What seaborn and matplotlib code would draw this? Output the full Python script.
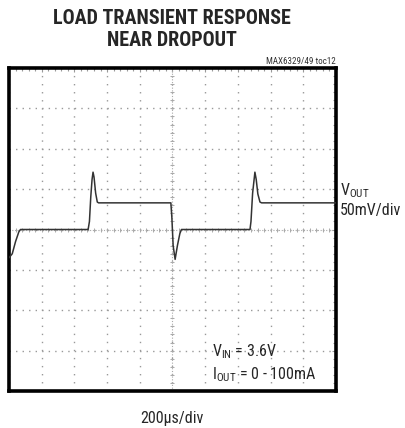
import numpy as np
import pandas as pd
import matplotlib
matplotlib.use('Agg')
import matplotlib.pyplot as plt
import seaborn as sns

# trace: time in us, VOUT deviation in mV
time_us = [0, 20, 40, 60, 70, 484, 492, 500, 508, 514, 520, 530, 540, 548, 560,
           990, 996, 1004, 1016, 1030, 1045, 1055,
           1474, 1480, 1490, 1504, 1512, 1522, 1535, 1545, 2000]
vout_mv = [-35, -30, -15, -3, 0, 0, 10, 40, 62, 71, 65, 45, 34, 33, 33,
           33, 15, -20, -37, -20, -5, 0,
           0, 10, 45, 71, 62, 44, 34, 33, 33]

t_div = 200   # us per division
v_div = 50    # mV per division
x_major = np.arange(0, 2001, t_div)
y_major = np.arange(-200, 201, v_div)

df = pd.DataFrame({'t': time_us, 'v': vout_mv})

sns.set_style('white')
plt.rcParams['font.family'] = ['Roboto Condensed', 'DejaVu Sans']
plt.rcParams['mathtext.fontset'] = 'custom'
plt.rcParams['mathtext.rm'] = 'Roboto Condensed'
plt.rcParams['mathtext.it'] = 'Roboto Condensed'

fig = plt.figure(figsize=(4.06, 4.28), dpi=100)
ax = fig.add_axes([9 / 406, 37 / 428, 327 / 406, 323 / 428])

sns.lineplot(data=df, x='t', y='v', ax=ax, color='#333333', lw=1.1, zorder=4)

ax.set_xlim(0, 2000)
ax.set_ylim(-200, 200)
ax.set_xticks(x_major)
ax.set_yticks(y_major)
ax.set_xticks(np.arange(0, 2001, t_div / 5), minor=True)
ax.set_yticks(np.arange(-200, 201, v_div / 5), minor=True)
ax.tick_params(which='both', direction='in', top=True, right=True,
               labelbottom=False, labelleft=False, color='#999999')
ax.tick_params(which='major', length=3, width=0.8)
ax.tick_params(which='minor', length=2, width=0.8)
ax.set_xlabel('')
ax.set_ylabel('')

ax.xaxis.grid(True, color='#999999', lw=1.0, linestyle=(0, (1, 4.8)))
ax.yaxis.grid(True, color='#999999', lw=1.0, linestyle=(0, (1, 3.7)))

# centre crosshair with small division marks
ax.axvline(1000, color='#aaaaaa', lw=0.8, linestyle=(0, (1, 1.5)), zorder=2)
ax.axhline(0, color='#aaaaaa', lw=0.8, linestyle=(0, (1, 1.5)), zorder=2)
ym = np.arange(-200, 201, v_div / 5)
ax.plot(np.full_like(ym, 1000.0), ym, ls='none', marker='_', ms=3.5,
        mew=0.7, color='#aaaaaa', zorder=2)
xm = np.arange(0, 2001, t_div / 5)
ax.plot(xm, np.zeros_like(xm, dtype=float), ls='none', marker='|', ms=3.5,
        mew=0.7, color='#aaaaaa', zorder=2)

for s in ax.spines.values():
    s.set_visible(True)
    s.set_linewidth(2.6)
    s.set_color('black')

fig.text(172 / 406, 1 - 18 / 428, 'LOAD TRANSIENT RESPONSE', ha='center',
         va='center', fontsize=14.5, fontweight='heavy')
fig.text(172 / 406, 1 - 40 / 428, 'NEAR DROPOUT', ha='center',
         va='center', fontsize=14.5, fontweight='heavy')
fig.text(336 / 406, 1 - 61 / 428, 'MAX6329/49 toc12', ha='right',
         va='center', fontsize=6.5, color='#333333')

fig.text(340 / 406, 1 - 191 / 428, r'V$_{\mathrm{OUT}}$', ha='left',
         va='center', fontsize=11.5)
fig.text(340 / 406, 1 - 211 / 428, '50mV/div', ha='left',
         va='center', fontsize=11.5)
fig.text(212 / 406, 1 - 352 / 428, r'V$_{\mathrm{IN}}$ = 3.6V', ha='left',
         va='center', fontsize=11.5)
fig.text(212 / 406, 1 - 375 / 428, r'I$_{\mathrm{OUT}}$ = 0 - 100mA', ha='left',
         va='center', fontsize=11.5)
fig.text(172 / 406, 1 - 418 / 428, '200\u00b5s/div', ha='center',
         va='center', fontsize=11.5)

fig.savefig('out.png', dpi=100, facecolor='white')
